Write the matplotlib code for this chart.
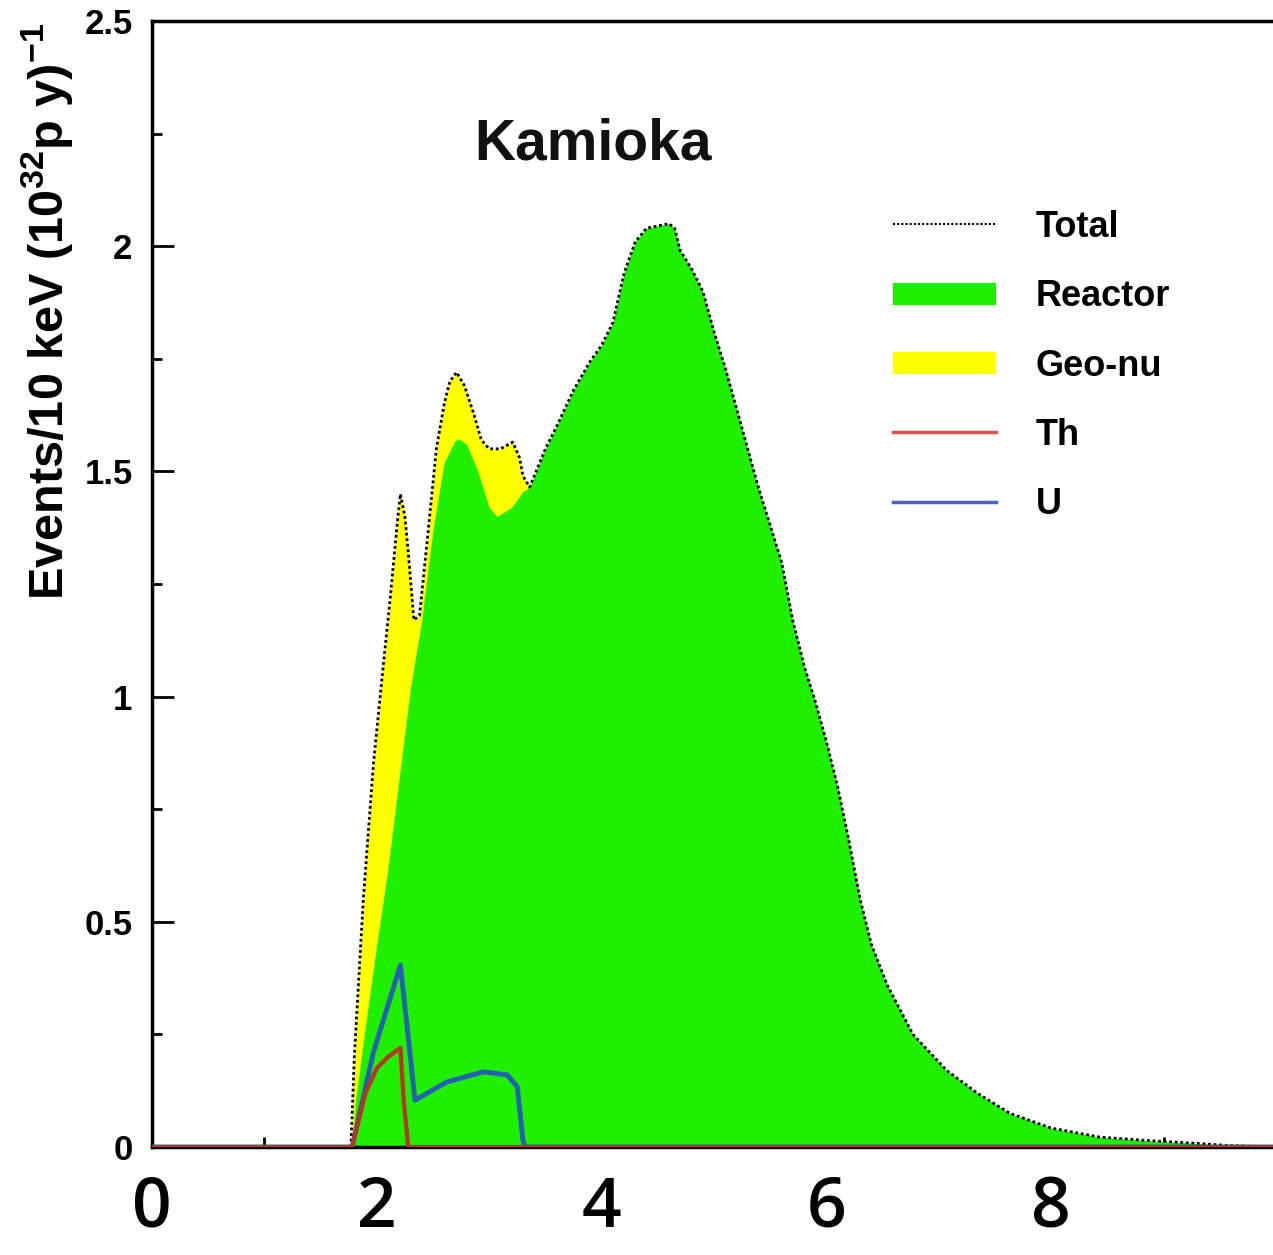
import numpy as np
import matplotlib
matplotlib.use("Agg")
import matplotlib.pyplot as plt
from matplotlib.lines import Line2D
from matplotlib.ticker import MultipleLocator

plt.rcParams["font.family"] = "Liberation Sans"
plt.rcParams["font.weight"] = "bold"
plt.rcParams["mathtext.fontset"] = "custom"
plt.rcParams["mathtext.rm"] = "Liberation Sans:bold"
plt.rcParams["mathtext.it"] = "Liberation Sans:bold"
plt.rcParams["mathtext.bf"] = "Liberation Sans:bold"

# Reactor spectrum (green)
reactor_E = [0.00, 1.78, 1.81, 1.90, 2.00, 2.06, 2.10, 2.20, 2.30, 2.40, 2.50, 2.60,
             2.70, 2.75, 2.80, 2.90, 3.00, 3.07, 3.20, 3.30, 3.36, 3.50, 3.60, 3.75,
             3.90, 4.00, 4.10, 4.20, 4.30, 4.40, 4.50, 4.60, 4.65, 4.70, 4.80, 4.90,
             5.00, 5.10, 5.20, 5.30, 5.40, 5.50, 5.60, 5.70, 5.80, 5.90, 6.00, 6.10,
             6.20, 6.30, 6.40, 6.54, 6.77, 7.07, 7.34, 7.63, 8.00, 8.43, 8.88, 9.30,
             9.60, 10.0]
reactor_y = [0.00, 0.00, 0.10, 0.27, 0.45, 0.55, 0.62, 0.82, 1.02, 1.17, 1.37, 1.52,
             1.57, 1.57, 1.56, 1.50, 1.42, 1.40, 1.42, 1.455, 1.465, 1.55, 1.60, 1.68,
             1.745, 1.78, 1.83, 1.94, 2.01, 2.04, 2.045, 2.05, 2.04, 1.99, 1.95, 1.90,
             1.81, 1.73, 1.64, 1.55, 1.46, 1.38, 1.30, 1.17, 1.07, 0.99, 0.90, 0.80,
             0.68, 0.55, 0.45, 0.36, 0.25, 0.17, 0.12, 0.075, 0.042, 0.022, 0.014, 0.008,
             0.003, 0.0]

# Reactor + geo-nu sum below 3.36 MeV (top of the yellow band)
total_E = [1.77, 1.80, 1.88, 1.97, 2.05, 2.12, 2.18, 2.21, 2.25, 2.28, 2.33, 2.38,
           2.45, 2.53, 2.60, 2.65, 2.71, 2.78, 2.86, 2.93, 3.00, 3.10, 3.21, 3.27,
           3.30, 3.36]
total_y = [0.00, 0.20, 0.55, 0.85, 1.05, 1.22, 1.38, 1.45, 1.40, 1.32, 1.17, 1.18,
           1.35, 1.55, 1.65, 1.70, 1.72, 1.69, 1.63, 1.57, 1.55, 1.55, 1.565, 1.53,
           1.49, 1.465]

# geo-neutrino components
th_E = [0.0, 1.78, 1.90, 2.00, 2.10, 2.21, 2.24, 2.28, 10.0]
th_y = [0.0, 0.0, 0.12, 0.175, 0.20, 0.22, 0.10, 0.0, 0.0]
u_E = [0.0, 1.78, 1.97, 2.21, 2.34, 2.62, 2.95, 3.16, 3.25, 3.30, 3.32, 10.0]
u_y = [0.0, 0.0, 0.21, 0.404, 0.104, 0.144, 0.167, 0.16, 0.134, 0.015, 0.0, 0.0]

x_ticks = [0, 2, 4, 6, 8]
y_ticks = [0, 0.5, 1, 1.5, 2, 2.5]
y_tick_labels = ["0", "0.5", "1", "1.5", "2", "2.5"]

GREEN = "#1ef000"
YELLOW = "#ffff00"
TH_COL = "#b8332a"
U_COL = "#2660b4"

W, H = 1273, 1255
fig = plt.figure(figsize=(W / 100, H / 100), dpi=100)
ax = fig.add_axes([152 / W, 108 / H, 1124 / W, 1126 / H])

ax.fill_between(total_E, total_y, color=YELLOW, lw=0, zorder=1)
ax.fill_between(reactor_E, reactor_y, color=GREEN, lw=0, zorder=2)

# dotted total line follows the yellow band, then the reactor curve
cut = reactor_E.index(3.36)
tot_line_E = total_E + reactor_E[cut + 1:]
tot_line_y = total_y + reactor_y[cut + 1:]
ax.plot(tot_line_E, tot_line_y, color="black", ls=(0, (1, 1)), lw=2, zorder=4)

ax.plot(u_E, u_y, color=U_COL, lw=3.5, zorder=5)
ax.plot(th_E, th_y, color=TH_COL, lw=3, zorder=6)

ax.set_xlim(0, 10)
ax.set_ylim(0, 2.5)
ax.set_xticks(x_ticks)
ax.set_xticklabels([str(t) for t in x_ticks], fontsize=50, fontweight="semibold",
                   family="Open Sans")
ax.xaxis.set_minor_locator(MultipleLocator(1))
ax.set_yticks(y_ticks)
ax.set_yticklabels(y_tick_labels, fontsize=25)
ax.yaxis.set_minor_locator(MultipleLocator(0.25))
ax.tick_params(axis="x", which="major", direction="in", length=13, width=2, pad=20)
ax.tick_params(axis="x", which="minor", direction="in", length=7, width=2)
ax.tick_params(axis="y", which="major", direction="in", length=16, width=2, pad=14)
ax.tick_params(axis="y", which="minor", direction="in", length=7, width=2)
for s in ax.spines.values():
    s.set_linewidth(2.5)
    s.set_zorder(3)

fig.text(47 / W, 1 - 311 / H, "Events/10 keV (10$^{32}$p y)$^{-1}$", rotation=90,
         ha="center", va="center", fontsize=35, fontweight="bold")
fig.text(593 / W, 1 - 160 / H, "Kamioka", ha="center", va="baseline",
         fontsize=41, fontweight="bold", color="#111111")

handles = [
    Line2D([], [], color="black", ls=(0, (1, 1)), lw=1.5),
    Line2D([], [], color=GREEN, lw=16, solid_capstyle="butt"),
    Line2D([], [], color=YELLOW, lw=16, solid_capstyle="butt"),
    Line2D([], [], color="#d9534f", lw=2.5),
    Line2D([], [], color="#4a5fd0", lw=2.5),
]
labels = ["Total", "Reactor", "Geo-nu", "Th", "U"]
fig.legend(handles, labels, loc="upper left", bbox_to_anchor=(893 / W, 1 - 210 / H),
           frameon=False, handlelength=2.85, handletextpad=1.1,
           labelspacing=0.95, borderpad=0, borderaxespad=0,
           prop={"family": "Liberation Sans", "weight": "bold", "size": 26})

fig.savefig("out.png", dpi=100)
